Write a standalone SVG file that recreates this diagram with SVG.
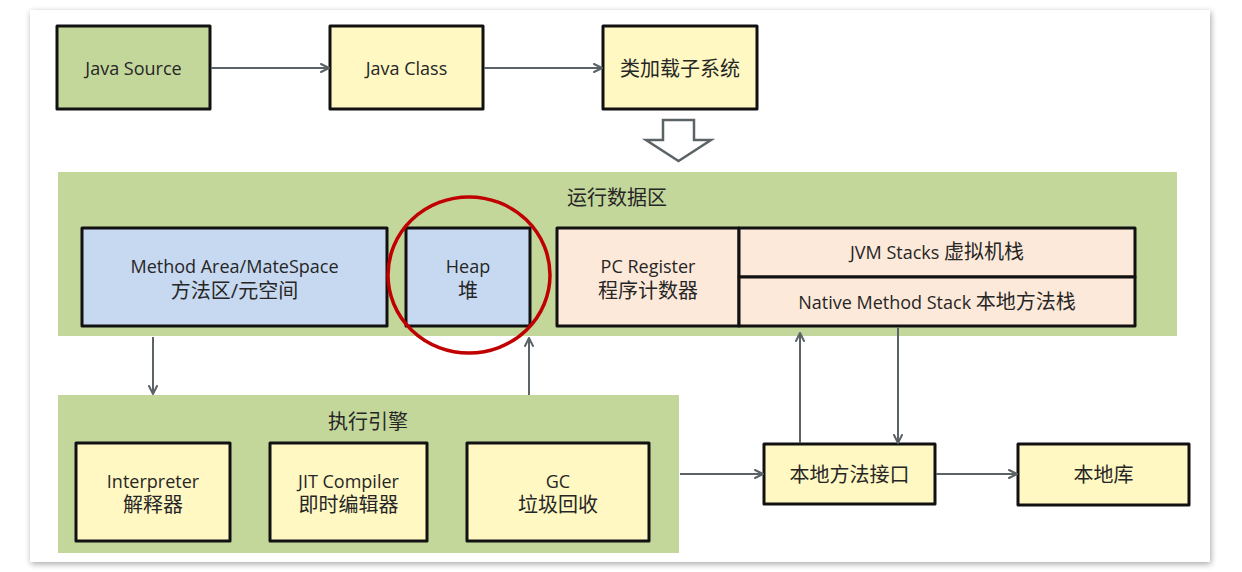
<svg xmlns="http://www.w3.org/2000/svg" width="1242" height="572" viewBox="0 0 1242 572">
  <defs>
    <filter id="shadow" x="-5%" y="-5%" width="110%" height="110%">
      <feGaussianBlur in="SourceAlpha" stdDeviation="3"/>
      <feOffset dx="1" dy="2"/>
      <feComponentTransfer><feFuncA type="linear" slope="0.35"/></feComponentTransfer>
      <feMerge><feMergeNode/><feMergeNode in="SourceGraphic"/></feMerge>
    </filter>
    <marker id="arr" viewBox="0 0 10 10" refX="9" refY="5" markerWidth="10" markerHeight="10" markerUnits="userSpaceOnUse" orient="auto">
      <path d="M1,1 L9,5 L1,9" fill="none" stroke="#5b6367" stroke-width="2" stroke-linecap="round" stroke-linejoin="round"/>
    </marker>
    <style>
      .box { stroke: #111; stroke-width: 3; stroke-linejoin: round; }
      .green { fill: #c4d79b; }
      .yellow { fill: #fff8c2; }
      .blue { fill: #c6d9f1; }
      .peach { fill: #fde9d9; }
      .region { fill: #c4d79b; }
      text { font-family: "Open Sans", "Noto Sans CJK SC", sans-serif; fill: #262626; text-anchor: middle; }
      .en { font-size: 18px; }
      .cn { font-size: 20px; }
      .conn { stroke: #5b6367; stroke-width: 2; fill: none; marker-end: url(#arr); }
    </style>
  </defs>

  <rect x="0" y="0" width="1242" height="572" fill="#ffffff"/>
  <rect x="30" y="10" width="1180" height="552" fill="#ffffff" filter="url(#shadow)"/>

  <!-- regions -->
  <g id="runtime-data-area">
    <rect class="region" x="58" y="172" width="1119" height="164"/>
    <text class="cn" x="617" y="205">运行数据区</text>
  </g>
  <g id="execution-engine">
    <rect class="region" x="58" y="395" width="621" height="158"/>
    <text class="cn" x="368" y="429">执行引擎</text>
  </g>

  <!-- top row -->
  <g id="java-source">
    <rect class="box green" x="57" y="26" width="153" height="83"/>
    <text class="en" x="133.5" y="75">Java Source</text>
  </g>
  <g id="java-class">
    <rect class="box yellow" x="330" y="26" width="153" height="83"/>
    <text class="en" x="406.5" y="75">Java Class</text>
  </g>
  <g id="class-loader">
    <rect class="box yellow" x="603" y="26" width="154" height="83"/>
    <text class="cn" x="680" y="76">类加载子系统</text>
  </g>

  <!-- runtime data area members -->
  <g id="method-area">
    <rect class="box blue" x="82" y="228" width="305" height="98"/>
    <text class="en" x="234.5" y="273">Method Area/MateSpace</text>
    <text class="cn" x="234.5" y="298">方法区/元空间</text>
  </g>
  <g id="heap">
    <rect class="box blue" x="406" y="228" width="124" height="98"/>
    <text class="en" x="468" y="273">Heap</text>
    <text class="cn" x="468" y="298">堆</text>
    <ellipse cx="469" cy="275" rx="81" ry="78" fill="none" stroke="#c00000" stroke-width="3.5"/>
  </g>
  <g id="pc-register">
    <rect class="box peach" x="557" y="228" width="182" height="98"/>
    <text class="en" x="648" y="273">PC Register</text>
    <text class="cn" x="648" y="298">程序计数器</text>
  </g>
  <g id="jvm-stacks">
    <rect class="box peach" x="739" y="228" width="396" height="49"/>
    <text x="937" y="259"><tspan class="en">JVM Stacks </tspan><tspan class="cn">虚拟机栈</tspan></text>
  </g>
  <g id="native-method-stack">
    <rect class="box peach" x="739" y="277" width="396" height="49"/>
    <text x="937" y="309"><tspan class="en">Native Method Stack </tspan><tspan class="cn">本地方法栈</tspan></text>
  </g>

  <!-- execution engine members -->
  <g id="interpreter">
    <rect class="box yellow" x="76" y="443" width="154" height="98"/>
    <text class="en" x="153" y="488">Interpreter</text>
    <text class="cn" x="153" y="512">解释器</text>
  </g>
  <g id="jit-compiler">
    <rect class="box yellow" x="270" y="443" width="157" height="98"/>
    <text class="en" x="348.5" y="488">JIT Compiler</text>
    <text class="cn" x="348.5" y="512">即时编辑器</text>
  </g>
  <g id="gc">
    <rect class="box yellow" x="467" y="443" width="182" height="98"/>
    <text class="en" x="558" y="488">GC</text>
    <text class="cn" x="558" y="512">垃圾回收</text>
  </g>

  <!-- native -->
  <g id="native-interface">
    <rect class="box yellow" x="764" y="444" width="171" height="60"/>
    <text class="cn" x="849.5" y="482">本地方法接口</text>
  </g>
  <g id="native-library">
    <rect class="box yellow" x="1018" y="444" width="171" height="61"/>
    <text class="cn" x="1103.5" y="482">本地库</text>
  </g>

  <!-- connectors -->
  <g id="connectors">
    <line class="conn" x1="211" y1="68" x2="329" y2="68"/>
    <line class="conn" x1="484" y1="68" x2="602" y2="68"/>
    <path d="M663,120 L694,120 L694,140 L711,140 L678.5,161 L646,140 L663,140 Z" fill="#ffffff" stroke="#5b6367" stroke-width="2.5" stroke-linejoin="miter"/>
    <line class="conn" x1="153" y1="337" x2="153" y2="394"/>
    <line class="conn" x1="529" y1="395" x2="529" y2="338"/>
    <line class="conn" x1="680" y1="474" x2="763" y2="474"/>
    <line class="conn" x1="800" y1="443" x2="800" y2="333"/>
    <line class="conn" x1="898" y1="327" x2="898" y2="443"/>
    <line class="conn" x1="936" y1="474" x2="1017" y2="474"/>
  </g>
</svg>
